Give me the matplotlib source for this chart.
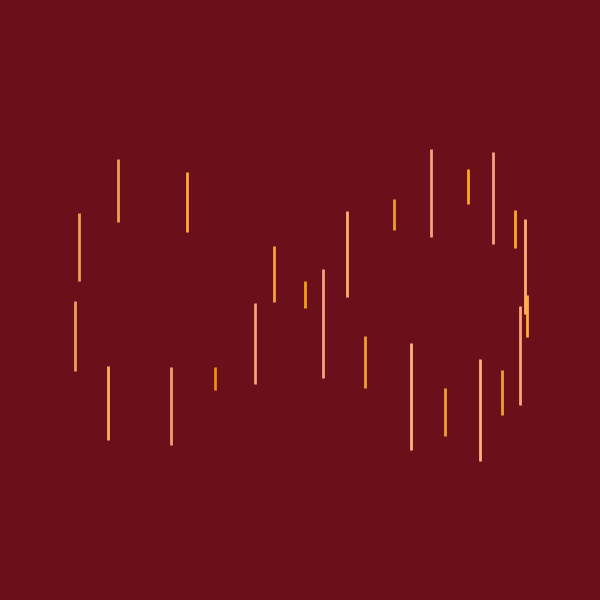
import matplotlib
matplotlib.use('Agg')
import matplotlib.pyplot as plt

# segment x position, top and bottom (in chart units, y grows downward)
seg_x = [79, 118, 187, 274, 75, 255, 108, 171, 215, 305, 323, 347, 394,
         431, 468, 493, 515, 525, 527, 520, 365, 411, 445, 480, 502]
seg_top = [213, 159, 172, 246, 301, 303, 366, 367, 367, 281, 269, 211, 199,
           149, 169, 152, 210, 219, 295, 306, 336, 343, 388, 359, 370]
seg_bottom = [281, 222, 232, 302, 371, 384, 440, 445, 390, 308, 378, 297, 230,
              237, 204, 244, 248, 314, 337, 405, 388, 450, 436, 461, 415]
seg_color = ['#f2a050', '#f0a050', '#ffa840', '#f5a040', '#eaa060', '#f2a47a',
             '#ffb060', '#f0a070', '#e89010', '#f0a010', '#f2a47e', '#ffb070',
             '#f0a020', '#f2a47c', '#ffa820', '#f2a47c', '#ffa820', '#ffb070',
             '#ffb030', '#f8a878', '#f0a030', '#ffb488', '#f0a030', '#ffb27c',
             '#f0a030']

bg = '#6b101b'

fig = plt.figure(figsize=(6, 6), dpi=100, facecolor=bg)
ax = fig.add_axes([0, 0, 1, 1], facecolor=bg)
ax.vlines(seg_x, seg_top, seg_bottom, colors=seg_color, linewidth=2)
ax.set_xlim(0, 600)
ax.set_ylim(600, 0)
ax.set_axis_off()

fig.savefig('out.png', dpi=100, facecolor=bg)
